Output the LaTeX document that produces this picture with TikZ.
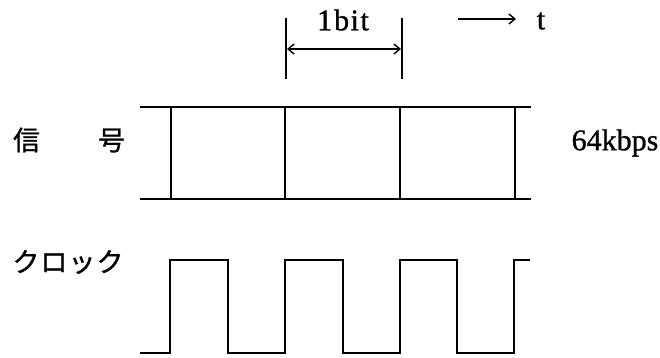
\documentclass[tikz,border=0pt]{standalone}
\usepackage{fontspec}
\setmainfont{Liberation Serif}
\newfontfamily\lat[FakeBold=1]{Liberation Serif}
\newfontfamily\jp[FakeBold=1]{Noto Sans CJK JP}
\usetikzlibrary{arrows.meta}
\begin{document}
\begin{tikzpicture}[x=1pt,y=-1pt,
  wave/.style={line width=1.8pt, line join=miter, line cap=rect},
  dim/.style={line width=1.4pt},
  lbl/.style={inner sep=0pt, font=\lat\fontsize{30}{30}\selectfont},
  jlbl/.style={inner sep=0pt, font=\jp\fontsize{27}{27}\selectfont}]
\useasboundingbox (0,0) rectangle (660,358);
\fill[white] (0,0) rectangle (660,358);
% signal
\draw[wave] (141,107) -- (530,107);
\draw[wave] (141,199) -- (530,199);
\foreach \x in {171,285,400,515} \draw[wave] (\x,107) -- (\x,199);
% clock
\draw[wave] (141,353) -- (170,353) -- (170,260) -- (228,260) -- (228,353) -- (285,353) -- (285,260) -- (343,260) -- (343,353) -- (400,353) -- (400,260) -- (457,260) -- (457,353) -- (514,353) -- (514,260) -- (529,260);
% 1bit dimension
\coordinate (d1t) at (286,18); \coordinate (d1b) at (286,79);
\coordinate (d2t) at (402,18); \coordinate (d2b) at (402,79);
\draw[dim] (d1t) -- (d1b);
\draw[dim] (d2t) -- (d2b);
\coordinate (a1) at (287,49); \coordinate (a2) at (401,49);
\draw[dim, {Straight Barb[length=6pt,width=10pt]}-{Straight Barb[length=6pt,width=10pt]}] (a1) -- (a2);
\node[lbl] (bit) at (343,20) {1\kern2pt b\kern1.5pt i\kern1.5pt t};
% time arrow
\coordinate (t1) at (458,19); \coordinate (t2) at (516,19);
\draw[dim, -{Straight Barb[length=6pt,width=10pt]}] (t1) -- (t2);
\node[lbl] (t) at (541,21) {t};
% labels
\node[jlbl] (sig) at (69,140) {信\hspace{58pt}号};
\node[lbl] (rate) at (615,143) {64kbps};
\node[jlbl] (clk) at (68,262) {ク\hspace{1pt}ロ\hspace{1pt}ッ\hspace{1pt}ク};
\end{tikzpicture}
\end{document}
